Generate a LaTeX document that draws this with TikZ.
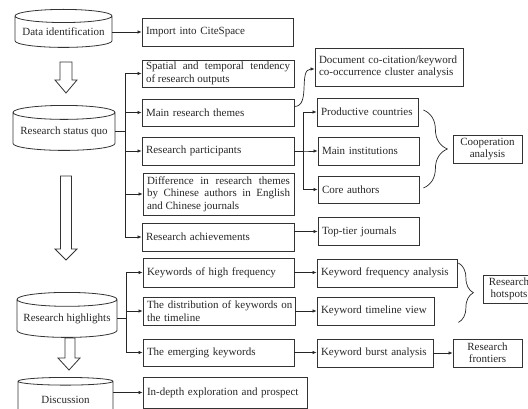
\documentclass[tikz,border=0pt]{standalone}
\usepackage{fontspec}
\setmainfont{Liberation Serif}
\usetikzlibrary{arrows.meta,calc,shapes.geometric,decorations.pathreplacing}

\begin{document}
\begin{tikzpicture}[
  x=1pt,y=-1pt,
  every node/.style={font=\fontsize{11}{12.4}\selectfont,text=black!85},
  box/.style={rectangle,draw=black!80,line width=0.8pt,inner xsep=4pt,inner ysep=0pt,minimum height=28pt,text width=#1,align=left},
  jbox/.style={box=#1,align=justify},
  cbox/.style={box=#1,align=center},
  drum/.style={cylinder,shape border rotate=90,aspect=0.16,draw=black!80,line width=0.8pt,inner sep=0pt},
  flow/.style={-{Latex[length=4pt,width=3.5pt]},draw=black!85,line width=0.7pt},
  fat/.style={draw=black!80,line width=0.8pt,fill=white},
  curly/.style={decorate,decoration={brace,amplitude=#1},draw=black!85,line width=0.7pt}
]
\useasboundingbox (0,0) rectangle (528,409);

% stages
\node[drum,minimum width=97pt,minimum height=38pt,anchor=north] (dd) at (63.5,9) {Data identification};
\node[drum,minimum width=102pt,minimum height=45pt,anchor=north] (sq) at (64,105) {Research status quo};
\node[drum,minimum width=100pt,minimum height=45pt,anchor=north] (hl) at (67,292) {Research highlights};
\node[drum,minimum width=95pt,minimum height=40pt,anchor=north] (ds) at (65.5,377) {Discussion};

\draw[fat] (60,62) -- (72,62) -- (72,80) -- (77,80) -- (66,93) -- (55,80) -- (60,80) -- cycle;
\draw[fat] (60.5,176) -- (71.5,176) -- (71.5,249) -- (77,249) -- (66,260) -- (55,249) -- (60.5,249) -- cycle;
\draw[fat] (65,338) -- (75,338) -- (75,358) -- (80,358) -- (69,370) -- (58,358) -- (65,358) -- cycle;

% second column
\node[box=143pt] (imp) at (217.5,32) {Import into CiteSpace};
\node[jbox=144pt,minimum height=27pt] (sp) at (218,73.5) {Spatial and temporal tendency\linebreak of research outputs};
\node[box=144pt,minimum height=27pt] (th) at (218,112.5) {Main research themes};
\node[box=144pt] (pa) at (218,151) {Research participants};
\node[jbox=143pt,minimum height=42pt] (di) at (218.5,194) {Difference in research themes\linebreak by Chinese authors in English\linebreak and Chinese journals};
\node[box=144pt] (ac) at (218,237) {Research achievements};
\node[box=143pt,minimum height=29pt] (kh) at (218.5,272.5) {Keywords of high frequency};
\node[box=144pt] (kd) at (219,311) {\mbox{The distribution of keywords on}\\the timeline};
\node[box=143pt,minimum height=27pt] (ke) at (218.5,352.5) {The emerging keywords};
\node[box=156pt,minimum height=31pt] (ex) at (225,392.5) {In-depth exploration and prospect};

% third column
\node[box=140pt,minimum height=38pt] (dc) at (389,67) {Document co-citation/keyword\\co-occurrence cluster analysis};
\node[box=93pt] (pc) at (367.5,112) {Productive countries};
\node[box=93pt] (mi) at (368.5,151) {Main institutions};
\node[box=93pt,minimum height=27pt] (ca) at (368.5,189.5) {Core authors};
\node[box=93pt] (tj) at (368.5,231.5) {Top-tier journals};
\node[box=132pt] (kf) at (387,273) {Keyword frequency analysis};
\node[box=109pt] (kt) at (375.5,311) {Keyword timeline view};
\node[box=108pt] (kb) at (375,353) {Keyword burst analysis};

% fourth column
\node[cbox=61pt] (co) at (487.5,149) {Cooperation\\analysis};
\node[cbox=44pt] (rh) at (509,289) {Research\\hotspots};
\node[cbox=61pt] (rf) at (487.5,353) {Research\\frontiers};

% connectors
\draw[flow] (dd.east |- imp.west) -- (imp.west);
\foreach \b in {sp,th,pa,di,ac}
  \draw[flow] (sq.east) -- ++(10,0) |- (\b.west);
\foreach \b in {kh,kd,ke}
  \draw[flow] (hl.east) -- ++(9,0) |- (\b.west);
\draw[flow] (ds.east |- ex.west) -- (ex.west);

\draw[flow] ($(th.east)+(0,-6)$) to[out=0,in=180] ($(dc.west)+(0,2)$);
\foreach \b in {pc,mi,ca}
  \draw[flow] (pa.east) -- ++(9,0) |- (\b.west);
\draw[flow] (ac.east |- tj.west) -- (tj.west);
\draw[flow] (kh.east) -- (kh.east -| kf.west);
\draw[flow] (kd.east) -- (kd.east -| kt.west);
\draw[flow] (ke.east) -- (ke.east -| kb.west);
\draw[flow] (kb.east) -- (kb.east -| rf.west);

\draw[curly=24pt] ($(pc.east)+(5,-2)$) -- ($(pc.east |- ca.east)+(5,-1.5)$);
\draw[curly=15pt] ($(kf.east)+(1,-10)$) -- ($(kf.east |- kt.south)+(1,-3)$);
\end{tikzpicture}
\end{document}
